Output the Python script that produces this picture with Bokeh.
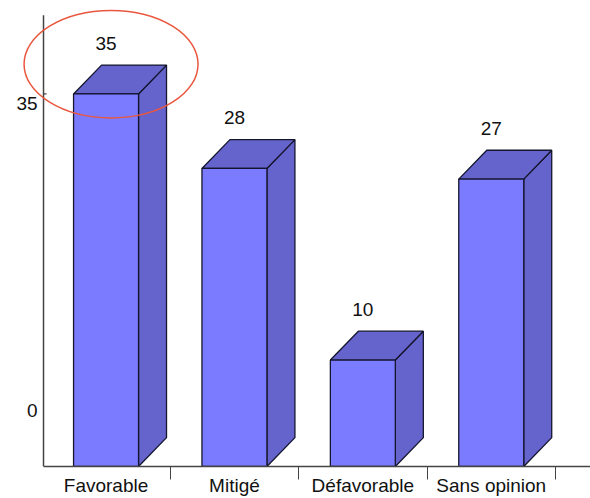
import math
from bokeh.plotting import figure
from bokeh.models import Range1d, LinearAxis, FixedTicker, ColumnDataSource
from bokeh.core.properties import value
from bokeh.embed import file_html
from bokeh.resources import INLINE

# ---- data ----
categories = ["Favorable", "Mitigé", "Défavorable", "Sans opinion"]
votes = [35, 28, 10, 27]
y_tick_labels = ["0", "35"]
y_label_positions = [5.24, 34.1]
highlight_index = 0

# ---- styling / geometry ----
FONT = "Liberation Sans"
FRONT = "#7b7bff"
DARK = "#6464cc"
EDGE = "#15152e"
AXIS = "#444444"
bar_w = 0.506       # in category units
depth_x = 0.218     # 3D depth (x units)
depth_y = 2.71      # 3D depth (value units)
label_gap = 4.77
axis_x = 0.013      # where the value axis stands
axis_top = 42.4

p = figure(width=590, height=498, output_backend="svg", toolbar_location=None,
           x_axis_type=None, y_axis_type=None,
           x_range=Range1d(-0.322, 4.273), y_range=Range1d(0, 43.78),
           min_border_left=0, min_border_right=0, min_border_top=0,
           min_border_bottom=30)
p.outline_line_color = None
p.background_fill_color = "white"
p.border_fill_color = "white"

centers = [i + 0.5 for i in range(len(categories))]
lefts = [c - bar_w / 2 for c in centers]
rights = [c + bar_w / 2 for c in centers]

# side faces
side_xs = [[r, r + depth_x, r + depth_x, r] for r in rights]
side_ys = [[0, depth_y, v + depth_y, v] for v in votes]
p.patches(side_xs, side_ys, fill_color=DARK, line_color=EDGE, line_width=1.3)
# top faces
top_xs = [[l, l + depth_x, r + depth_x, r] for l, r in zip(lefts, rights)]
top_ys = [[v, v + depth_y, v + depth_y, v] for v in votes]
p.patches(top_xs, top_ys, fill_color=DARK, line_color=EDGE, line_width=1.3)
# front faces
src = ColumnDataSource(dict(x=centers, top=votes, cat=categories,
                            lab=[str(v) for v in votes],
                            ly=[v + label_gap for v in votes]))
p.vbar(x="x", top="top", bottom=0, width=bar_w, source=src,
       fill_color=FRONT, line_color=EDGE, line_width=1.3)

# value labels
p.text(x="x", y="ly", text="lab", source=src, text_align="center",
       text_baseline="middle", text_font=value(FONT), text_font_size="19px",
       text_color="#111111")

# value axis: line, tick at the top value, labels
p.segment(x0=[axis_x], y0=[0], x1=[axis_x], y1=[axis_top],
          line_color=AXIS, line_width=1.5)
p.ray(x=[axis_x], y=[votes[0]], length=3, length_units="screen", angle=0,
      line_color=AXIS, line_width=1.2)
p.text(x=[axis_x] * len(y_tick_labels), y=y_label_positions, text=y_tick_labels,
       x_offset=-6, text_align="right", text_baseline="middle",
       text_font=value(FONT), text_font_size="19px", text_color="#111111")

# highlight ellipse
hx = centers[highlight_index] + depth_x / 2 - 0.07
hy = votes[highlight_index] + 2.8
p.ellipse(x=[hx], y=[hy], width=1.355, height=10.1, fill_color=None,
          line_color="#e9573f", line_width=1.5)

# category axis
xaxis = LinearAxis(ticker=FixedTicker(ticks=centers,
                                      minor_ticks=[i + 1 for i in range(len(categories))]),
                   bounds=(axis_x, 4.273))
xaxis.major_label_overrides = {c: cat for c, cat in zip(centers, categories)}
xaxis.major_tick_out = 0
xaxis.major_tick_in = 0
xaxis.minor_tick_out = 13
xaxis.minor_tick_in = 0
xaxis.minor_tick_line_color = AXIS
xaxis.axis_line_color = AXIS
xaxis.axis_line_width = 1.5
xaxis.major_label_standoff = -5
xaxis.major_label_text_font = FONT
xaxis.major_label_text_font_size = "19px"
xaxis.major_label_text_color = "#111111"
p.add_layout(xaxis, "below")

open("out.html", "w").write(file_html(p, INLINE))
